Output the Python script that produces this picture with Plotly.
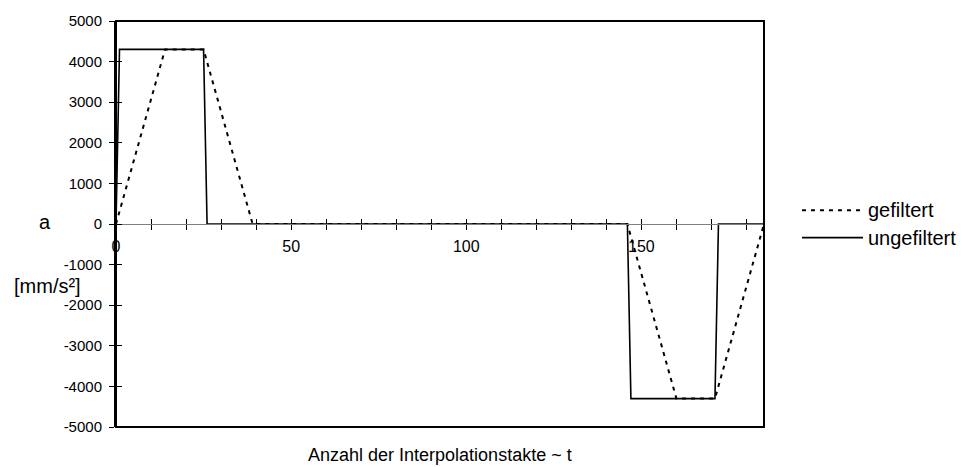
import plotly.graph_objects as go

# Data
x_gefiltert = [0, 14, 25, 39, 146, 160, 171, 185]
y_gefiltert = [0, 4300, 4300, 0, 0, -4300, -4300, 0]
x_ungefiltert = [0, 1, 25, 26, 146, 147, 171, 172, 185]
y_ungefiltert = [0, 4300, 4300, 0, 0, -4300, -4300, 0, 0]
series_names = ["gefiltert", "ungefiltert"]
x_tickvals = [0, 50, 100, 150]
x_ticktext = ["0", "50", "100", "150"]
y_tickvals = [5000, 4000, 3000, 2000, 1000, 0, -1000, -2000, -3000, -4000, -5000]
y_ticktext = ["5000", "4000", "3000", "2000", "1000", "0", "-1000", "-2000", "-3000", "-4000", "-5000"]
x_title = "Anzahl der Interpolationstakte ~ t"
y_title_a = "a"
y_title_unit = "[mm/s²]"

FONT = "Liberation Sans, Arial, sans-serif"
XR = [0, 185]
YR = [-5000, 5000]
DASH = "4px,5px"

fig = go.Figure()
fig.add_trace(go.Scatter(x=x_gefiltert, y=y_gefiltert, mode="lines", name=series_names[0],
                         line=dict(color="black", width=2, dash=DASH), showlegend=False))
fig.add_trace(go.Scatter(x=x_ungefiltert, y=y_ungefiltert, mode="lines", name=series_names[1],
                         line=dict(color="black", width=1.6), showlegend=False))
# invisible trace to activate the overlay axes for crossing tick marks
fig.add_trace(go.Scatter(x=x_ungefiltert, y=y_ungefiltert, mode="lines", xaxis="x2", yaxis="y2",
                         line=dict(width=0), opacity=0, showlegend=False, hoverinfo="skip"))

fig.update_layout(
    width=962, height=467,
    margin=dict(l=116, r=198, t=19, b=40),
    paper_bgcolor="white", plot_bgcolor="white",
    font=dict(family=FONT, color="black", size=15),
    xaxis=dict(range=XR, anchor="free", position=0.5, showgrid=False, zeroline=False,
               showline=True, linecolor="#808080", linewidth=1,
               tickvals=x_tickvals, ticktext=x_ticktext, ticks="outside", ticklen=5,
               tickcolor="black", tickwidth=1,
               tickfont=dict(size=16, family=FONT, color="black"), ticklabelstandoff=3,
               minor=dict(dtick=10, tick0=0, ticks="outside", ticklen=5, tickcolor="black", tickwidth=1)),
    xaxis2=dict(range=XR, overlaying="x", anchor="free", position=0.5, side="top",
                showgrid=False, zeroline=False, showline=False, showticklabels=False,
                dtick=10, tick0=0, ticks="outside", ticklen=5, tickcolor="black", tickwidth=1),
    yaxis=dict(range=YR, showgrid=False, zeroline=False, showline=True, linecolor="black", linewidth=2,
               tickvals=y_tickvals, ticktext=y_ticktext, ticks="outside", ticklen=5,
               tickcolor="black", tickwidth=1,
               tickfont=dict(size=15, family=FONT, color="black"), ticklabelstandoff=4),
    yaxis2=dict(range=YR, overlaying="y", anchor="free", position=0, side="right",
                showgrid=False, zeroline=False, showline=False, showticklabels=False,
                tickvals=y_tickvals, ticks="outside", ticklen=5, tickcolor="black", tickwidth=1),
    shapes=[
        dict(type="rect", xref="paper", yref="paper", x0=0, x1=1, y0=0, y1=1,
             line=dict(color="black", width=2), layer="above"),
        dict(type="line", xref="paper", yref="paper", x0=1.0586, x1=1.1528, y0=0.5336, y1=0.5336,
             line=dict(color="black", width=2, dash=DASH)),
        dict(type="line", xref="paper", yref="paper", x0=1.0586, x1=1.1528, y0=0.4664, y1=0.4664,
             line=dict(color="black", width=1.6)),
    ],
    annotations=[
        dict(text=series_names[0], xref="paper", yref="paper", x=1.157, y=0.5336,
             xanchor="left", yanchor="middle", showarrow=False, font=dict(size=20)),
        dict(text=series_names[1], xref="paper", yref="paper", x=1.157, y=0.4664,
             xanchor="left", yanchor="middle", showarrow=False, font=dict(size=20)),
        dict(text=y_title_a, xref="paper", yref="paper", x=-0.1096, y=0.505,
             xanchor="center", yanchor="middle", showarrow=False, font=dict(size=20)),
        dict(text=y_title_unit, xref="paper", yref="paper", x=-0.161, y=0.348,
             xanchor="left", yanchor="middle", showarrow=False, font=dict(size=20)),
        dict(text=x_title, xref="paper", yref="paper", x=0.5, y=-0.0686,
             xanchor="center", yanchor="middle", showarrow=False, font=dict(size=18)),
    ],
)

fig.write_html("out.html")
